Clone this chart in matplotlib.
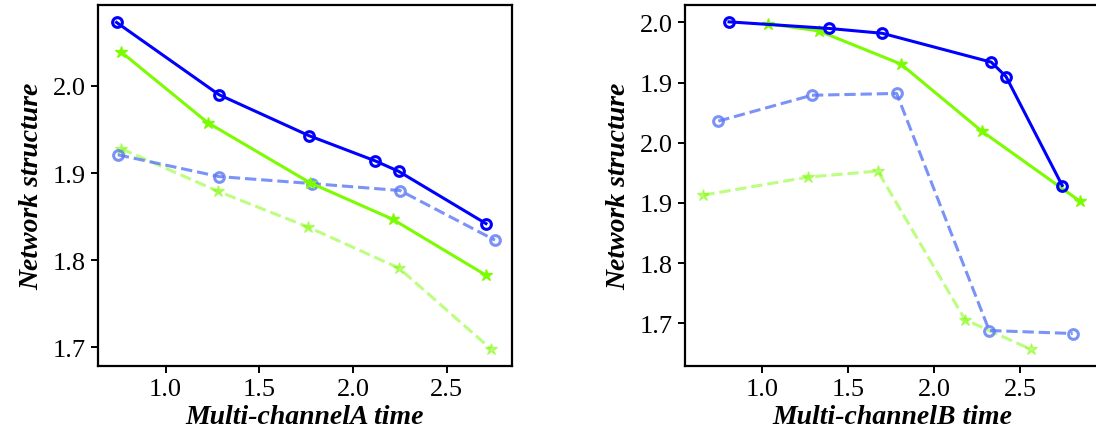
import matplotlib
matplotlib.use("Agg")
import matplotlib.pyplot as plt

plt.rcParams['font.family'] = ['Liberation Serif', 'DejaVu Serif']

# left panel (Multi-channelA)
a_blue_x = [0.738, 1.285, 1.765, 2.119, 2.244, 2.710]
a_blue_y = [2.073, 1.990, 1.943, 1.914, 1.902, 1.842]
a_green_x = [0.763, 1.224, 1.770, 2.212, 2.708]
a_green_y = [2.039, 1.958, 1.889, 1.847, 1.783]
a_lblue_x = [0.745, 1.285, 1.779, 2.251, 2.758]
a_lblue_y = [1.921, 1.896, 1.888, 1.880, 1.823]
a_lgreen_x = [0.763, 1.281, 1.761, 2.245, 2.737]
a_lgreen_y = [1.928, 1.879, 1.838, 1.791, 1.698]

# right panel (Multi-channelB)
b_blue_x = [0.806, 1.390, 1.698, 2.333, 2.419, 2.746]
b_blue_y = [2.201, 2.190, 2.182, 2.134, 2.110, 1.929]
b_green_x = [1.031, 1.328, 1.806, 2.279, 2.849]
b_green_y = [2.198, 2.186, 2.131, 2.019, 1.903]
b_lblue_x = [0.744, 1.288, 1.782, 2.321, 2.807]
b_lblue_y = [2.036, 2.079, 2.082, 1.688, 1.683]
b_lgreen_x = [0.657, 1.266, 1.672, 2.180, 2.562]
b_lgreen_y = [1.913, 1.943, 1.953, 1.706, 1.657]

b_yticks = [2.2, 2.1, 2.0, 1.9, 1.8, 1.7]
b_yticklabels = ['2.0', '1.9', '2.0', '1.9', '1.8', '1.7']

fig = plt.figure(figsize=(10.96, 4.35), dpi=100)
ax1 = fig.add_axes([98/1096, 68/435, 414/1096, 361/435])
ax2 = fig.add_axes([685/1096, 68/435, 415/1096, 361/435])

blue = '#0000ff'
green = '#7cfc00'


def draw(ax, bx, by, gx, gy, lbx, lby, lgx, lgy):
    ax.plot(bx, by, '-', color=blue, lw=2.2, marker='o', ms=7,
            mfc='none', mew=2.2, zorder=4)
    ax.plot(gx, gy, '-', color=green, lw=2.2, marker='*', ms=9, zorder=3)
    ax.plot(lbx, lby, '--', color='#5a78f5', alpha=0.8, lw=2.2, marker='o',
            ms=7, mfc='none', mew=2.2, zorder=2)
    ax.plot(lgx, lgy, '--', color=green, alpha=0.5, lw=2.2, marker='*',
            ms=9, zorder=1)
    for s in ax.spines.values():
        s.set_linewidth(1.6)
    ax.tick_params(labelsize=19, width=1.4, length=5)
    ax.set_ylabel('Network structure', fontsize=20, fontweight='bold',
                  fontstyle='italic', labelpad=6)


draw(ax1, a_blue_x, a_blue_y, a_green_x, a_green_y,
     a_lblue_x, a_lblue_y, a_lgreen_x, a_lgreen_y)
ax1.set_xlim(0.639, 2.849)
ax1.set_ylim(1.6785, 2.093)
ax1.set_xticks([1.0, 1.5, 2.0, 2.5])
ax1.set_yticks([1.7, 1.8, 1.9, 2.0])
ax1.set_xlabel('Multi-channelA time', fontsize=20, fontweight='bold',
               fontstyle='italic', labelpad=3)

draw(ax2, b_blue_x, b_blue_y, b_green_x, b_green_y,
     b_lblue_x, b_lblue_y, b_lgreen_x, b_lgreen_y)
ax2.set_xlim(0.550, 2.966)
ax2.set_ylim(1.629, 2.229)
ax2.set_xticks([1.0, 1.5, 2.0, 2.5])
ax2.set_yticks(b_yticks)
ax2.set_yticklabels(b_yticklabels)
ax2.set_xlabel('Multi-channelB time', fontsize=20, fontweight='bold',
               fontstyle='italic', labelpad=3)

fig.savefig('out.png', dpi=100)
